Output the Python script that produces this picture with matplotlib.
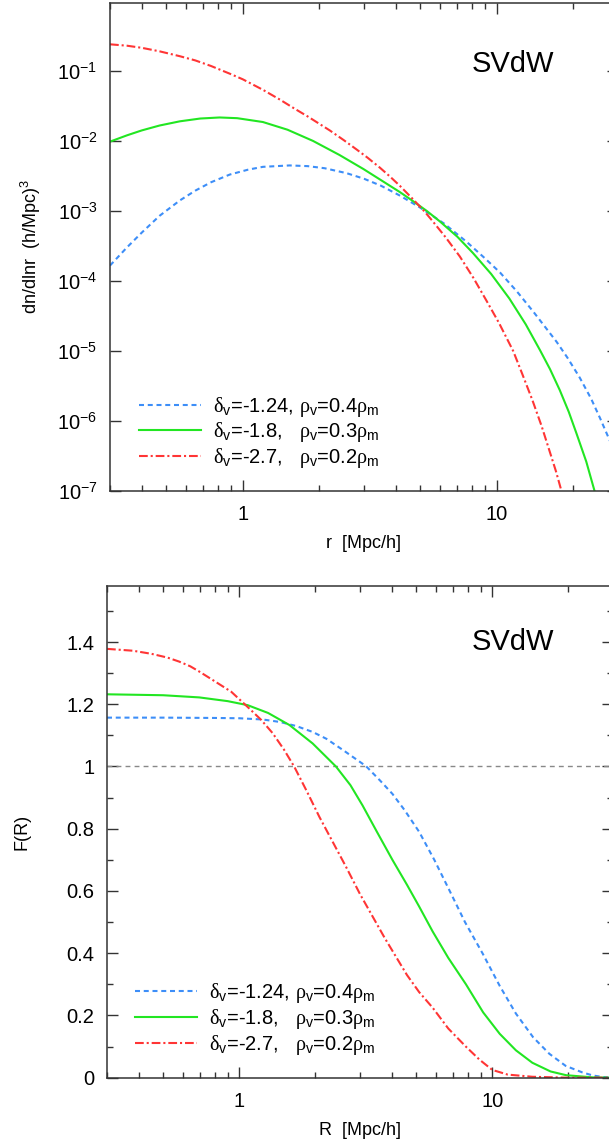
import numpy as np
import matplotlib
matplotlib.use("Agg")
import matplotlib.pyplot as plt
from matplotlib.ticker import LogLocator, NullFormatter, FuncFormatter, MultipleLocator

plt.rcParams['font.family'] = ['Liberation Sans', 'DejaVu Sans']
plt.rcParams['mathtext.fontset'] = 'custom'
plt.rcParams['mathtext.rm'] = 'Liberation Sans'
plt.rcParams['mathtext.it'] = 'Liberation Sans:italic'
plt.rcParams['mathtext.sf'] = 'Liberation Serif'

# void models: (delta_v, rho_v / rho_m)
labels = [r'$\mathsf{\delta}_\mathrm{v}$=-1.24, $\mathsf{\rho}_\mathrm{v}$=0.4$\mathsf{\rho}_\mathrm{m}$',
          r'$\mathsf{\delta}_\mathrm{v}$=-1.8,   $\mathsf{\rho}_\mathrm{v}$=0.3$\mathsf{\rho}_\mathrm{m}$',
          r'$\mathsf{\delta}_\mathrm{v}$=-2.7,   $\mathsf{\rho}_\mathrm{v}$=0.2$\mathsf{\rho}_\mathrm{m}$']

# --- void size function dn/dlnr, stored as log10 ---
r_a = [0.3, 0.35, 0.4, 0.47, 0.565, 0.65, 0.75, 0.889, 1.05, 1.2, 1.53, 1.8, 2.1, 2.56,
       3.0, 3.5, 4.15, 4.98, 6.2, 7.6, 9.0, 10.3, 12.0, 14.0, 17.2, 19.0, 21.2, 23.5,
       25.5, 28.0, 30.0]
lg_a = [-3.78, -3.52, -3.31, -3.07, -2.85, -2.71, -2.59, -2.48, -2.41, -2.37, -2.35,
        -2.36, -2.39, -2.46, -2.54, -2.64, -2.78, -2.95, -3.18, -3.44, -3.68, -3.88,
        -4.15, -4.45, -4.87, -5.10, -5.38, -5.68, -5.96, -6.30, -6.60]

r_b = [0.3, 0.35, 0.4, 0.47, 0.565, 0.68, 0.81, 0.95, 1.2, 1.5, 1.89, 2.4, 2.98, 3.5,
       4.15, 4.68, 5.3, 5.97, 7.0, 8.05, 9.5, 11.2, 13.0, 14.8, 16.2, 17.7, 19.2, 20.6,
       22.5, 24.3]
lg_b = [-2.01, -1.92, -1.85, -1.78, -1.72, -1.68, -1.665, -1.675, -1.73, -1.84, -2.00,
        -2.20, -2.40, -2.56, -2.73, -2.86, -3.00, -3.15, -3.37, -3.60, -3.90, -4.25,
        -4.62, -4.99, -5.26, -5.56, -5.87, -6.18, -6.58, -7.01]

r_c = [0.3, 0.35, 0.4, 0.47, 0.565, 0.65, 0.75, 0.889, 1.0, 1.2, 1.4, 1.6, 1.8, 2.2,
       2.5, 2.8, 3.1, 3.46, 3.8, 4.15, 4.67, 5.2, 5.6, 6.3, 7.15, 8.1, 9.1, 10.2, 11.6,
       12.6, 13.8, 15.0, 16.1, 17.1, 18.0]
lg_c = [-0.62, -0.64, -0.67, -0.72, -0.79, -0.85, -0.93, -1.04, -1.12, -1.27, -1.41,
        -1.54, -1.65, -1.85, -1.99, -2.12, -2.24, -2.38, -2.51, -2.64, -2.83, -3.01,
        -3.15, -3.38, -3.65, -3.96, -4.28, -4.60, -5.00, -5.33, -5.70, -6.07, -6.42,
        -6.72, -7.01]

# --- F(R) ---
R_a = [0.3, 0.5, 0.8, 1.0, 1.24, 1.45, 1.68, 1.95, 2.21, 2.6, 3.17, 3.6, 4.03, 4.5,
       5.14, 5.9, 6.76, 7.8, 9.16, 10.7, 12.4, 14.5, 16.8, 19.5, 22.7, 25.0, 27.5, 30.0]
F_a = [1.157, 1.157, 1.156, 1.155, 1.151, 1.143, 1.130, 1.111, 1.089, 1.050, 1.001,
       0.955, 0.912, 0.860, 0.79, 0.70, 0.603, 0.50, 0.399, 0.295, 0.206, 0.130, 0.077,
       0.038, 0.017, 0.007, 0.002, 0.0]

R_b = [0.3, 0.5, 0.695, 0.9, 1.08, 1.3, 1.58, 1.95, 2.41, 2.75, 3.07, 3.5, 4.03, 4.6,
       5.14, 5.81, 6.7, 7.87, 9.2, 10.7, 12.4, 14.4, 17.0, 19.6, 25.0, 30.0]
F_b = [1.232, 1.229, 1.222, 1.21, 1.197, 1.172, 1.133, 1.074, 1.000, 0.94, 0.875,
       0.79, 0.70, 0.62, 0.55, 0.47, 0.385, 0.30, 0.21, 0.141, 0.088, 0.048, 0.020,
       0.008, 0.001, 0.0]

R_c = [0.3, 0.38, 0.45, 0.52, 0.579, 0.64, 0.695, 0.785, 0.93, 1.08, 1.22, 1.355, 1.5,
       1.65, 1.85, 2.07, 2.35, 2.64, 3.0, 3.37, 3.75, 4.16, 4.6, 5.14, 5.81, 6.7, 7.87,
       8.9, 10.0, 11.5, 14.4, 20.0, 30.0]
F_c = [1.378, 1.372, 1.362, 1.35, 1.337, 1.322, 1.305, 1.278, 1.24, 1.191, 1.15, 1.107,
       1.055, 0.999, 0.92, 0.839, 0.755, 0.678, 0.59, 0.517, 0.45, 0.389, 0.33, 0.275,
       0.225, 0.158, 0.0996, 0.058, 0.025, 0.010, 0.003, 0.0, 0.0]

colors = ['#3d8ef8', '#22e622', '#ff3535']
styles = [(0, (2.4, 1.8)), '-', (0, (4.2, 1.4, 1.0, 1.4))]

W, H = 609, 1147
fig = plt.figure(figsize=(W / 100, H / 100), dpi=100)
ax1 = fig.add_axes([110 / W, 1 - 491 / H, 508 / W, 488 / H])
ax2 = fig.add_axes([107 / W, 1 - 1077.7 / H, 506 / W, 491.7 / H])

for x, lg, c, ls, lab in zip([r_a, r_b, r_c], [lg_a, lg_b, lg_c], colors, styles, labels):
    ax1.plot(x, 10 ** np.array(lg), color=c, ls=ls, lw=1.5, label=lab)

ax2.axhline(1.0, color='#888888', ls=(0, (3.5, 3)), lw=1.0)
for x, f, c, ls, lab in zip([R_a, R_b, R_c], [F_a, F_b, F_c], colors, styles, labels):
    ax2.plot(x, f, color=c, ls=ls, lw=1.5, label=lab)

for ax, lx in ((ax1, 0.057), (ax2, 0.055)):
    ax.set_xscale('log')
    ax.set_xlim(0.3, 30)
    ax.xaxis.set_major_formatter(FuncFormatter(lambda v, _: f'{v:g}'))
    ax.xaxis.set_minor_locator(LogLocator(subs=np.arange(2, 10)))
    ax.xaxis.set_minor_formatter(NullFormatter())
    ax.tick_params(which='both', direction='in', top=True, right=True,
                   color='#333333', width=1.0, labelsize=14.5)
    ax.tick_params(axis='x', pad=10)
    ax.tick_params(axis='y', pad=9)
    ax.tick_params(which='major', length=8)
    ax.tick_params(which='minor', length=4.5)
    for s in ax.spines.values():
        s.set_color('#333333')
        s.set_linewidth(1.1)
    ax.legend(loc='lower left', bbox_to_anchor=(lx, 0.043), frameon=False,
              fontsize=14.5, handlelength=3.1, handletextpad=0.6,
              labelspacing=0.08, borderpad=0, borderaxespad=0)

ax1.set_yscale('log')
ax1.set_ylim(1e-7, 10 ** -0.03)
ax1.yaxis.set_major_locator(LogLocator(numticks=10))
ax1.yaxis.set_minor_locator(LogLocator(subs=[], numticks=10))
ax1.set_xlabel('r  [Mpc/h]', fontsize=13, labelpad=8)
ax1.set_ylabel(r'dn/dlnr  (h/Mpc)$^3$', fontsize=13, labelpad=10)
ax1.text(0.793, 0.875, 'SVdW', transform=ax1.transAxes, fontsize=21,
         ha='center', va='center')

ax2.set_ylim(0, 1.58)
ax2.yaxis.set_major_locator(MultipleLocator(0.2))
ax2.yaxis.set_minor_locator(MultipleLocator(0.1))
ax2.yaxis.set_major_formatter(FuncFormatter(lambda v, _: f'{v:g}'))
ax2.set_xlabel('R  [Mpc/h]', fontsize=13, labelpad=8)
ax2.set_ylabel('F(R)', fontsize=13, labelpad=26)
ax2.text(0.802, 0.886, 'SVdW', transform=ax2.transAxes, fontsize=21,
         ha='center', va='center')

fig.savefig('out.png', dpi=100)
